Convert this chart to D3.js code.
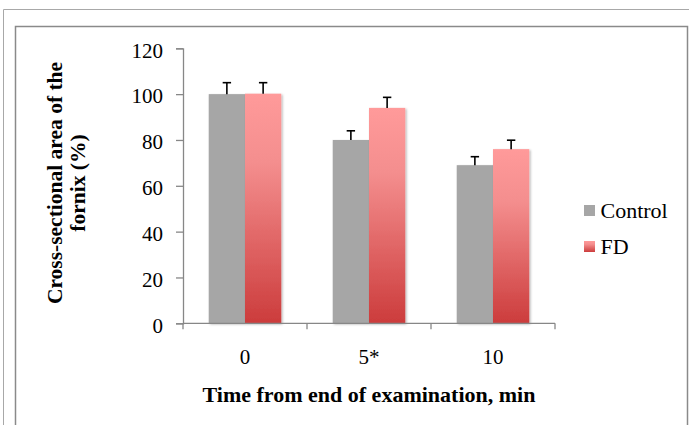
<!DOCTYPE html>
<html>
<head>
<meta charset="utf-8">
<script src="https://d3js.org/d3.v7.min.js"></script>
<style>
    body { margin: 0; background: #fff; }
    svg text { font-family: "Liberation Serif", "Times New Roman", Times, serif; }
</style>
</head>
<body>
<svg id="chart" width="689" height="425"></svg>
<script>
// values
const categories = ["0", "5*", "10"];
const seriesNames = ["Control", "FD"];
const controlValues = [100, 80, 69];
const fdValues = [100.2, 94, 76];
const controlErrors = [5, 4, 3.7];
const fdErrors = [4.8, 4.6, 3.9];
const yTicks = [0, 20, 40, 60, 80, 100, 120];

const serif = "'Liberation Serif', 'Times New Roman', Times, serif";
const svg = d3.select("#chart");

// frames (outer page border + chart area border)
svg.append("path")
    .attr("d", "M3.5,430 V9.5 H700")
    .attr("fill", "none")
    .attr("stroke", "#a8a8a8")
    .attr("stroke-width", 1);
svg.append("rect")
    .attr("x", 15.5).attr("y", 26.5)
    .attr("width", 672).attr("height", 420)
    .attr("fill", "none")
    .attr("stroke", "#8a8a8a")
    .attr("stroke-width", 1.5);

let defs = svg.append("defs");
let grad = defs.append("linearGradient")
    .attr("id", "fdGrad")
    .attr("x1", 0).attr("y1", 0).attr("x2", 0).attr("y2", 1);
grad.append("stop").attr("offset", "0%").attr("stop-color", "#ff9a9a");
grad.append("stop").attr("offset", "30%").attr("stop-color", "#f48e8e");
grad.append("stop").attr("offset", "100%").attr("stop-color", "#cc3c3c");

let shadow = defs.append("filter")
    .attr("id", "shadow")
    .attr("x", "-20%").attr("y", "-5%").attr("width", "140%").attr("height", "110%");
shadow.append("feDropShadow")
    .attr("dx", 1.2).attr("dy", 1)
    .attr("stdDeviation", 1.2)
    .attr("flood-color", "#000")
    .attr("flood-opacity", 0.3);

const x = d3.scaleBand()
    .domain(categories)
    .range([183, 555])
    .padding(0);
const xSub = d3.scaleBand()
    .domain(seriesNames)
    .range([0, x.bandwidth()])
    .paddingInner(0)
    .paddingOuter(0.71);
const y = d3.scaleLinear()
    .domain([0, 120])
    .range([323.3, 48.3]);

const axisColor = "#878787";

// y axis
let yAxis = svg.append("g")
    .attr("transform", "translate(183,0)")
    .call(d3.axisLeft(y).tickValues(yTicks).tickSize(7).tickPadding(13));
yAxis.attr("font-family", serif);
yAxis.select(".domain").attr("stroke", axisColor).attr("stroke-width", 1.3);
yAxis.selectAll(".tick line").attr("stroke", axisColor).attr("stroke-width", 1.3);
yAxis.selectAll(".tick text")
    .style("font-family", serif)
    .attr("font-size", 21)
    .attr("fill", "#000")
    .attr("dy", "0.42em");

// bars
const series = [
    {name: "Control", values: controlValues, errors: controlErrors, fill: "#a6a6a6"},
    {name: "FD", values: fdValues, errors: fdErrors, fill: "url(#fdGrad)"}
];

series.forEach(s => {
    let g = svg.append("g").attr("class", "series");
    g.selectAll("rect")
        .data(categories)
        .join("rect")
        .attr("x", (d) => x(d) + xSub(s.name))
        .attr("y", (d, i) => y(s.values[i]))
        .attr("width", xSub.bandwidth())
        .attr("height", (d, i) => y(0) - y(s.values[i]))
        .attr("fill", s.fill)
        .attr("filter", "url(#shadow)");
});

// error bars (upper only), drawn on top of the bars
series.forEach(s => {
    let g = svg.append("g").attr("class", "errors");
    categories.forEach((c, i) => {
        let cx = x(c) + xSub(s.name) + xSub.bandwidth() / 2;
        let top = y(s.values[i] + s.errors[i]);
        g.append("line")
            .attr("x1", cx).attr("x2", cx)
            .attr("y1", y(s.values[i])).attr("y2", top)
            .attr("stroke", "#000").attr("stroke-width", 1.6);
        g.append("line")
            .attr("x1", cx - 4.2).attr("x2", cx + 4.2)
            .attr("y1", top).attr("y2", top)
            .attr("stroke", "#000").attr("stroke-width", 1.6);
    });
});

// x axis: ticks at the category boundaries
let xAxis = svg.append("g");
xAxis.append("line")
    .attr("x1", x.range()[0]).attr("x2", x.range()[1])
    .attr("y1", y(0)).attr("y2", y(0))
    .attr("stroke", axisColor).attr("stroke-width", 1.3);
let boundaries = categories.map(c => x(c)).concat([x.range()[1]]);
xAxis.selectAll(".xtick")
    .data(boundaries)
    .join("line")
    .attr("class", "xtick")
    .attr("x1", d => d).attr("x2", d => d)
    .attr("y1", y(0)).attr("y2", y(0) + 6)
    .attr("stroke", axisColor).attr("stroke-width", 1.3);
xAxis.selectAll(".xlabel")
    .data(categories)
    .join("text")
    .attr("class", "xlabel")
    .attr("x", d => x(d) + x.bandwidth() / 2)
    .attr("y", 363.5)
    .attr("text-anchor", "middle")
    .attr("font-size", 21)
    .style("font-family", serif)
    .text(d => d);

// axis titles
svg.append("text")
    .attr("x", 369)
    .attr("y", 402)
    .attr("text-anchor", "middle")
    .attr("font-size", 22)
    .attr("font-weight", "bold")
    .style("font-family", serif)
    .text("Time from end of examination, min");

let yTitle = svg.append("text")
    .attr("transform", "translate(0,183) rotate(-90)")
    .attr("text-anchor", "middle")
    .attr("font-size", 21.5)
    .attr("font-weight", "bold")
    .style("font-family", serif);
yTitle.append("tspan").attr("x", 0).attr("y", 62).text("Cross-sectional area of the");
yTitle.append("tspan").attr("x", 0).attr("y", 85).text("fornix (%)");

// legend
let legend = svg.append("g").attr("class", "legend");
let legendItems = legend.selectAll("g")
    .data(series)
    .join("g")
    .attr("transform", (d, i) => `translate(584,${205 + i * 36})`);
legendItems.append("rect")
    .attr("width", 11).attr("height", 11)
    .attr("fill", d => d.fill);
legendItems.append("text")
    .attr("x", 16.5)
    .attr("y", 13)
    .attr("font-size", 22)
    .style("font-family", serif)
    .text(d => d.name);
</script>
</body>
</html>
